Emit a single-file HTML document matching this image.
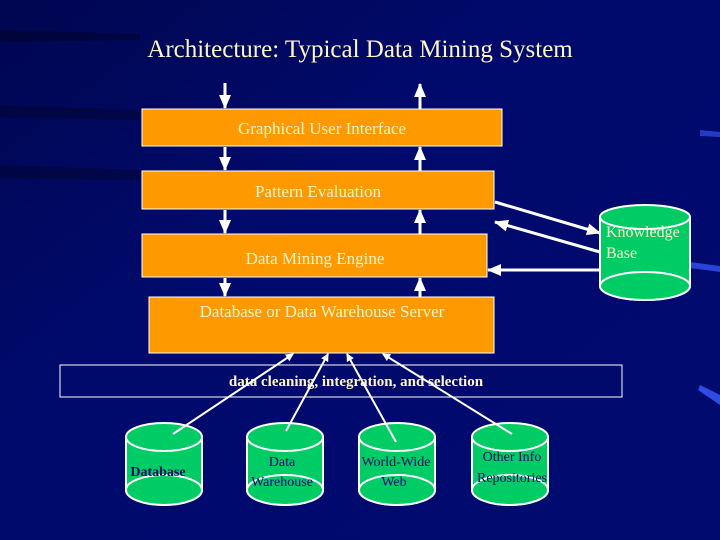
<!DOCTYPE html>
<html><head><meta charset="utf-8"><style>
html,body{margin:0;padding:0;width:720px;height:540px;overflow:hidden;background:#000a6a}
svg{display:block}
text{font-family:"Liberation Serif",serif}
</style></head><body>
<svg width="720" height="540" viewBox="0 0 720 540">
<defs>
<linearGradient id="bg" x1="0" y1="0" x2="1" y2="1">
<stop offset="0" stop-color="#000650"/><stop offset="0.4" stop-color="#000a6c"/><stop offset="1" stop-color="#000b70"/>
</linearGradient>
<marker id="ah" markerWidth="8" markerHeight="8" refX="7" refY="4" orient="auto" markerUnits="userSpaceOnUse">
<path d="M0,0 L8,4 L0,8 z" fill="#fff"/></marker>
<marker id="ah2" markerWidth="14" markerHeight="12" refX="13" refY="6" orient="auto" markerUnits="userSpaceOnUse">
<path d="M0,0 L14,6 L0,12 z" fill="#fff"/></marker>
</defs>
<rect width="720" height="540" fill="url(#bg)"/>
<path d="M0,30 L140,34 L140,40 L0,42z" fill="#00042e" opacity="0.6"/>
<path d="M0,105 L140,110 L140,120 L0,118z" fill="#00042e" opacity="0.5"/>
<path d="M0,165 L140,170 L140,180 L0,178z" fill="#00042e" opacity="0.5"/>
<path d="M700,385 L720,395 L720,405 L698,390z" fill="#3a5cff" opacity="0.8"/>
<path d="M690,262 L720,266 L720,272 L690,268z" fill="#3a5cff" opacity="0.7"/>
<path d="M700,130 L720,132 L720,137 L700,136z" fill="#3a5cff" opacity="0.6"/>

<text x="360" y="57" text-anchor="middle" font-size="25" fill="#fff5c8">Architecture: Typical Data Mining System</text>

<g stroke="#fff" stroke-width="3">
<line x1="225" y1="83" x2="225" y2="108" marker-end="url(#ah2)"/>
<line x1="225" y1="147" x2="225" y2="170" marker-end="url(#ah2)"/>
<line x1="225" y1="210" x2="225" y2="233" marker-end="url(#ah2)"/>
<line x1="225" y1="278" x2="225" y2="296" marker-end="url(#ah2)"/>
<line x1="420" y1="109" x2="420" y2="84" marker-end="url(#ah2)"/>
<line x1="420" y1="171" x2="420" y2="147" marker-end="url(#ah2)"/>
<line x1="420" y1="234" x2="420" y2="210" marker-end="url(#ah2)"/>
<line x1="420" y1="297" x2="420" y2="278" marker-end="url(#ah2)"/>
<line x1="495" y1="202" x2="600" y2="233" marker-end="url(#ah2)"/>
<line x1="600" y1="252" x2="495" y2="222" marker-end="url(#ah2)"/>
<line x1="600" y1="270" x2="488" y2="270" marker-end="url(#ah2)"/>
</g>

<g fill="#ff9900" stroke="#fff" stroke-width="1">
<rect x="142" y="109" width="360" height="37"/>
<rect x="142" y="171" width="352" height="38"/>
<rect x="142" y="234" width="345" height="43"/>
<rect x="149" y="297" width="345" height="56"/>
</g>
<g fill="#fff5c8" font-size="17" text-anchor="middle">
<text x="322" y="134">Graphical User Interface</text>
<text x="318" y="197">Pattern Evaluation</text>
<text x="315" y="264">Data Mining Engine</text>
<text x="322" y="317">Database or Data Warehouse Server</text>
</g>

<!-- Knowledge base -->
<g stroke="#fff" stroke-width="2" fill="#00cc66">
<path d="M600,217 L600,286 A45,14 0 0 0 690,286 L690,217"/>
<ellipse cx="645" cy="286" rx="45" ry="14"/>
<ellipse cx="645" cy="217" rx="45" ry="12"/>
</g>
<text x="606" y="237" font-size="16" fill="#fff5c8">Knowledge</text>
<text x="606" y="258" font-size="16" fill="#fff5c8">Base</text>

<rect x="60" y="365" width="562" height="32" fill="#000a6a" stroke="#fff" stroke-width="1"/>
<text x="356" y="386" text-anchor="middle" font-size="15" font-weight="bold" fill="#fff5c8">data cleaning, integration, and selection</text>

<g stroke="#fff" stroke-width="2" fill="#00cc66">
<path d="M126,437 L126,490 A38,15 0 0 0 202,490 L202,437"/><ellipse cx="164" cy="490" rx="38" ry="15"/><ellipse cx="164" cy="437" rx="38" ry="14"/>
<path d="M247,437 L247,490 A38,15 0 0 0 323,490 L323,437"/><ellipse cx="285" cy="490" rx="38" ry="15"/><ellipse cx="285" cy="437" rx="38" ry="14"/>
<path d="M359,437 L359,490 A38,15 0 0 0 435,490 L435,437"/><ellipse cx="397" cy="490" rx="38" ry="15"/><ellipse cx="397" cy="437" rx="38" ry="14"/>
<path d="M472,437 L472,490 A38,15 0 0 0 548,490 L548,437"/><ellipse cx="510" cy="490" rx="38" ry="15"/><ellipse cx="510" cy="437" rx="38" ry="14"/>
</g>
<g stroke="#fff" stroke-width="2">
<line x1="173" y1="434" x2="293" y2="354" marker-end="url(#ah)"/>
<line x1="286" y1="431" x2="328" y2="354" marker-end="url(#ah)"/>
<line x1="396" y1="442" x2="347" y2="354" marker-end="url(#ah)"/>
<line x1="512" y1="434" x2="383" y2="354" marker-end="url(#ah)"/>
</g>
<g fill="#000a6a" font-size="14" text-anchor="middle" font-weight="bold">
<text x="158" y="476">Database</text>
</g>
<g fill="#000a6a" font-size="14" text-anchor="middle">
<text x="282" y="466">Data</text><text x="282" y="486">Warehouse</text>
<text x="396" y="466">World-Wide</text><text x="394" y="486">Web</text>
<text x="512" y="461">Other Info</text><text x="512" y="482">Repositories</text>
</g>
</svg>
</body></html>
